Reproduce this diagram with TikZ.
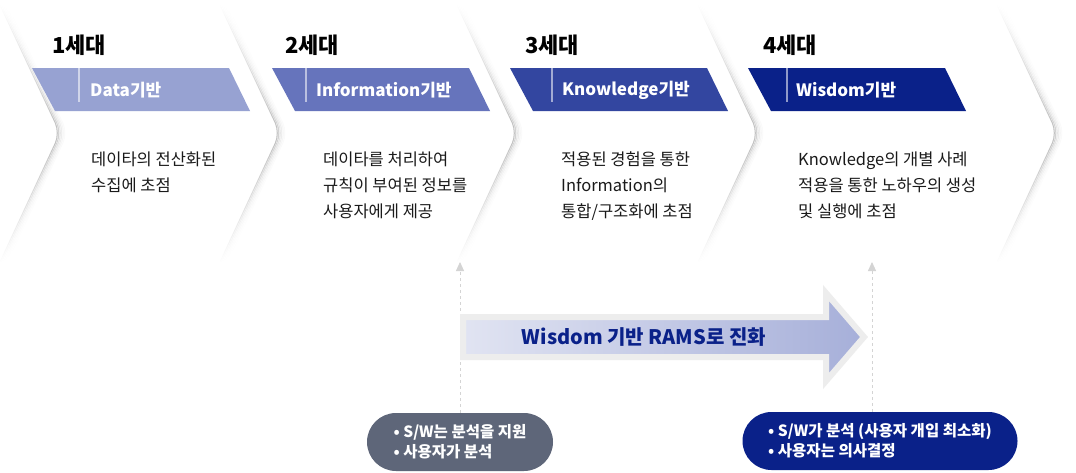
\documentclass[tikz,border=0pt]{standalone}
\usepackage{fontspec}
\setmainfont{Noto Sans CJK KR}
\usetikzlibrary{arrows.meta,shapes.misc,fadings}

\definecolor{bandA}{HTML}{97A2D2}
\definecolor{bandB}{HTML}{6674BC}
\definecolor{bandC}{HTML}{3346A0}
\definecolor{bandD}{HTML}{0A2189}
\definecolor{slate}{HTML}{5E6679}
\definecolor{navy}{HTML}{0A2189}
\definecolor{ink}{HTML}{1A1A1A}
\definecolor{flowL}{HTML}{E1E4F2}
\definecolor{flowR}{HTML}{A6AFD9}

\tikzfading[name=ends, top color=transparent!100, bottom color=transparent!100, middle color=transparent!0]

\begin{document}
\begin{tikzpicture}[x=1pt, y=-1pt,
  every node/.style={inner sep=0pt},
  gen/.style={anchor=west, font=\fontsize{22}{26}\selectfont\bfseries},
  tag/.style={anchor=west, text=white, font=\fontsize{17}{20}\selectfont\bfseries},
  desc/.style={anchor=north west, align=left, text=ink, font=\fontsize{16.5}{26}\selectfont},
  edge/.style={draw=black, line width=1pt, rounded corners=11pt, path fading=ends},
  bubble/.style={rounded rectangle, minimum height=58pt, align=left, text=white,
                 font=\fontsize{15.5}{20}\selectfont\bfseries},
  guide/.style={draw=black!17, line width=0.9pt, dash pattern=on 3pt off 3pt,
                -{Triangle[length=9pt,width=8pt]}},
  flow/.style={draw=black!7, line width=6pt, line join=miter,
               left color=flowL, right color=flowR}]

\useasboundingbox[fill=white] (0,0) rectangle (1076,472);

\foreach \t in {60,280,517,758,1057}
  \foreach \s/\o in {0/.26,1.5/.18,3/.11,4.5/.07,6/.04,7.5/.02}
    \draw[edge, opacity=\o, xshift=\s pt] (\t-60,5) -- (\t,133) -- (\t-60,262);

\foreach \x/\c in {32/bandA,272/bandB,510/bandC,748/bandD}
  \fill[\c] (\x,68) -- (\x+197,68) -- (\x+218,111) -- (\x+23,111) -- cycle;
\foreach \x in {79,306,552,787}
  \draw[white, opacity=.55, line width=1.2pt] (\x,68) -- (\x,102);

\node[gen] (g1) at (52,45) {1세대};
\node[gen] (g2) at (285,45) {2세대};
\node[gen] (g3) at (525,45) {3세대};
\node[gen] (g4) at (763,45) {4세대};

\node[tag] (t1) at (90,90) {Data기반};
\node[tag] (t2) at (316,90) {Information기반};
\node[tag] (t3) at (562,90) {Knowledge기반};
\node[tag] (t4) at (796,90) {Wisdom기반};

\node[desc] (d1) at (91,152) {데이타의 전산화된\\수집에 초점};
\node[desc] (d2) at (323,152) {데이타를 처리하여\\규칙이 부여된 정보를\\사용자에게 제공};
\node[desc] (d3) at (561,152) {적용된 경험을 통한\\Information의\\통합/구조화에 초점};
\node[desc] (d4) at (798,152) {Knowledge의 개별 사례\\적용을 통한 노하우의 생성\\및 실행에 초점};

\node[bubble, fill=slate, minimum width=186pt] (sw1) at (460,442) {• S/W는 분석을 지원\\• 사용자가 분석};
\node[bubble, fill=navy, minimum width=275pt] (sw2) at (880,441) {• S/W가 분석 (사용자 개입 최소화)\\• 사용자는 의사결정};

\coordinate (up1) at (460,262);
\coordinate (up2) at (872,262);
\draw[guide] (sw1.north) -- (up1);
\draw[guide] (up2 |- sw2.north) -- (up2);

\draw[flow] (463,317) -- (826,317) -- (826,293) -- (864,337) -- (826,381) -- (826,357) -- (463,357) -- cycle;
\node[font=\fontsize{20}{24}\selectfont\bfseries, text=navy] (evo) at (644,337) {Wisdom 기반 RAMS로 진화};
\end{tikzpicture}
\end{document}
